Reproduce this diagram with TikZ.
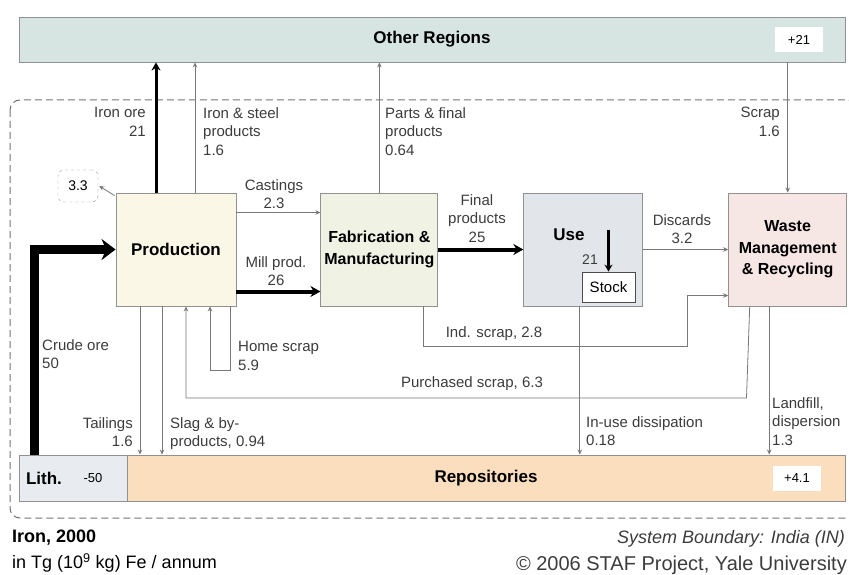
\documentclass[tikz,border=0pt]{standalone}
\usepackage{fontspec}
\setmainfont{Liberation Sans}
\usetikzlibrary{arrows.meta,positioning,calc}
\definecolor{cRegion}{RGB}{214,228,226}
\definecolor{cProd}{RGB}{250,247,230}
\definecolor{cFab}{RGB}{240,243,228}
\definecolor{cUse}{RGB}{226,229,233}
\definecolor{cWaste}{RGB}{246,230,228}
\definecolor{cRepo}{RGB}{250,222,190}
\definecolor{cLith}{RGB}{232,236,241}
\definecolor{cLine}{RGB}{120,120,120}
\definecolor{cEdge}{RGB}{145,145,145}
\definecolor{cText}{RGB}{60,60,60}

\begin{document}
\begin{tikzpicture}[x=1pt,y=-1pt,>=Stealth,font=\fontsize{15}{18.5}\selectfont,
  proc/.style={draw=cEdge,line width=0.9pt,minimum width=118pt,minimum height=113pt,inner sep=0pt,align=center,font=\fontsize{16}{21.5}\selectfont\bfseries},
  bar/.style={draw=cEdge,line width=0.9pt,minimum height=45pt,inner sep=0pt,font=\fontsize{17}{20}\selectfont\bfseries},
  val/.style={fill=white,minimum width=48pt,minimum height=25pt,inner sep=0pt,font=\fontsize{13}{15}\selectfont},
  lab/.style={inner sep=0pt,text=cText},
  flow/.style={draw=cLine,line width=0.8pt,-{Stealth[length=5pt,width=4.5pt]}},
  heavy/.style={draw=black,line width=4pt,-{Stealth[length=10pt,width=11pt]}}]
  \useasboundingbox (0,0) rectangle (849,575);
  % system boundary
  \draw[black!55,line width=1pt,dash pattern=on 7pt off 4pt,rounded corners=10pt] (10,100) rectangle (857,518);
  % outside and repositories
  \node[bar,fill=cRegion,minimum width=826pt] (region) at (432,39.5) {Other Regions};
  \node[val] (regval) at (799,40) {+21};
  \node[bar,fill=cLith,minimum width=108pt,minimum height=46pt] (lith) at (73,478) {};
  \node[inner sep=0pt,font=\fontsize{17}{20}\selectfont\bfseries] (lithlab) at (44,478) {Lith.};
  \node[inner sep=0pt,font=\fontsize{13}{15}\selectfont] (lithval) at (93,478) {-50};
  \node[bar,fill=cRepo,minimum width=718pt,minimum height=46pt] (repo) at (486,478) {Repositories};
  \node[val] (repoval) at (797,478) {+4.1};
  % processes
  \node[proc,fill=cProd,minimum width=120pt,font=\fontsize{17}{20}\selectfont\bfseries] (prod) at (176,249.5) {Production};
  \node[proc,fill=cFab,minimum width=117pt,right=84pt of prod] (fab) {Fabrication \&\\Manufacturing};
  \node[proc,fill=cUse,minimum width=119pt,right=85pt of fab] (use) {};
  \node[inner sep=0pt,font=\fontsize{17}{20}\selectfont\bfseries] (uselab) at (569,235) {Use};
  \node[draw=black!70,fill=white,line width=0.8pt,minimum width=53pt,minimum height=30pt,inner sep=0pt] (stock) at (608.5,287) {Stock};
  \node[proc,fill=cWaste,right=85pt of use] (waste) {Waste\\Management\\\& Recycling};
  \node[draw=cEdge,dashed,rounded corners=6pt,minimum width=40pt,minimum height=32pt,inner sep=0pt,font=\fontsize{14}{16}\selectfont] (dstock) at (78,186) {3.3};
  % to and from other regions
  \draw[line width=3pt,-{Stealth[length=8pt,width=9pt]}] ([xshift=-20pt]prod.north) -- ([xshift=-20pt]prod.north |- region.south);
  \draw[flow] ([xshift=19pt]prod.north) -- ([xshift=19pt]prod.north |- region.south);
  \draw[flow] (fab.north) -- (fab.north |- region.south);
  \draw[flow] (region.south -| waste.north) -- (waste.north);
  % main chain
  \draw[line width=9pt,-{Stealth[length=14pt,width=21pt]}] ([xshift=-39pt]lith.north) |- (prod.west);
  \draw[flow] ([yshift=37pt]prod.east) -- ([yshift=37pt]prod.east -| fab.west);
  \draw[heavy] ([yshift=-42pt]prod.east) -- ([yshift=-42pt]prod.east -| fab.west);
  \draw[heavy] (fab.east) -- (use.west);
  \draw[flow] (use.east) -- (waste.west);
  \draw[line width=2.5pt,-{Stealth[length=7pt,width=8pt]}] ([yshift=42pt]stock.north) -- (stock.north);
  \draw[flow] ([shift={(-1pt,-3pt)}]prod.north west) -- ([xshift=1pt]dstock.east);
  % scrap loops
  \coordinate (indc) at (687,346);
  \coordinate (purc) at (746.5,398);
  \draw[flow] ([xshift=44pt]fab.south) |- (indc) |- ([yshift=-46pt]waste.west);
  \draw[flow] ([xshift=-38pt]waste.south) -- (purc) -| ([xshift=10pt]prod.south);
  \draw[flow] ([xshift=54pt]prod.south) -- ++(0,64) -| ([xshift=34pt]prod.south);
  % losses
  \draw[flow] ([xshift=-36pt]prod.south) -- ([xshift=-36pt]prod.south |- repo.north);
  \draw[flow] ([xshift=-14pt]prod.south) -- ([xshift=-14pt]prod.south |- repo.north);
  \draw[flow] ([xshift=-3.5pt]use.south) -- ([xshift=-3.5pt]use.south |- repo.north);
  \draw[flow] ([xshift=-18.5pt]waste.south) -- ([xshift=-18.5pt]waste.south |- repo.north);
  % flow labels
  \node[lab,anchor=north east,align=right] (lore) at (146,107) {Iron ore\\21};
  \node[lab,anchor=north west,align=left] (lsteel) at (203,107) {Iron \& steel\\products\\1.6};
  \node[lab,anchor=north west,align=left] (lparts) at (385,107) {Parts \& final\\products\\0.64};
  \node[lab,anchor=north east,align=right] (lscrap) at (780,107) {Scrap\\1.6};
  \node[lab,anchor=north,align=center] (lcast) at (274,179) {Castings\\2.3};
  \node[lab,anchor=north,align=center] (lmill) at (276,256) {Mill prod.\\26};
  \node[lab,anchor=north,align=center] (lfinal) at (477,194) {Final\\products\\25};
  \node[lab,anchor=north,align=center] (ldisc) at (682,214) {Discards\\3.2};
  \node[lab,font=\fontsize{14}{16}\selectfont] (lstock) at (590,260) {21};
  \node[lab,anchor=north west,align=left] (lcrude) at (42,339) {Crude ore\\50};
  \node[lab,anchor=north west,align=left] (lhome) at (238,341) {Home scrap\\5.9};
  \node[lab] (lind) at (494,334) {Ind. scrap, 2.8};
  \node[lab] (lpur) at (472,384) {Purchased scrap, 6.3};
  \node[lab,anchor=north east,align=right] (ltail) at (133,417) {Tailings\\1.6};
  \node[lab,anchor=north west,align=left] (lslag) at (170,417) {Slag \& by-\\products, 0.94};
  \node[lab,anchor=north west,align=left] (ldiss) at (586,416) {In-use dissipation\\0.18};
  \node[lab,anchor=north west,align=left] (lland) at (772,397) {Landfill,\\dispersion\\1.3};
  % footer
  \node[inner sep=0pt,anchor=west,font=\fontsize{18}{20}\selectfont\bfseries] (title) at (12,538) {Iron, 2000};
  \node[inner sep=0pt,anchor=west,font=\fontsize{18}{20}\selectfont] (unit) at (12,563) {in Tg (10\textsuperscript{9} kg) Fe / annum};
  \node[inner sep=0pt,anchor=east,text=cText,font=\fontsize{18}{20}\selectfont\itshape] (bound) at (845,539) {System Boundary: India (IN)};
  \node[inner sep=0pt,anchor=east,text=cText,font=\fontsize{20}{22}\selectfont] (copy) at (847,565) {© 2006 STAF Project, Yale University};
\end{tikzpicture}
\end{document}
